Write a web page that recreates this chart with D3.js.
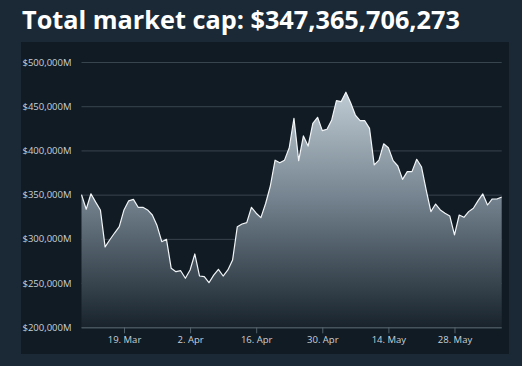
<!DOCTYPE html>
<html><head><meta charset="utf-8">
<script src="https://cdn.jsdelivr.net/npm/d3@7"></script>
<style>html,body{margin:0;padding:0;background:#1a2734;overflow:hidden} svg{display:block}</style>
</head><body><svg id="c" width="522" height="366"></svg>
<script>
const title = "Total market cap: $347,365,706,273";
const startDate = "2018-03-10";
// Daily total market cap, in millions of USD
const marketCapM = [
  350000, 333500, 351000, 341500, 332700, 291000, 299000, 306600, 313800, 332700,
  343000, 344700, 335700, 335700, 332700, 327000, 315000, 296800, 299500, 266700,
  262900, 264000, 255400, 264800, 282900, 258000, 257200, 250400, 259000, 265600,
  258000, 264800, 276000, 313800, 316800, 318300, 335700, 329000, 324000, 340000,
  359800, 389000, 386000, 389000, 403000, 436400, 388500, 416400, 405000, 430700,
  437500, 422400, 424000, 434500, 456300, 455200, 465800, 454000, 440000, 433600,
  433600, 425000, 383600, 389000, 407500, 403000, 388500, 382400, 367300, 376000,
  376000, 390000, 381600, 355300, 330800, 339400, 332700, 328900, 325900, 304400,
  327000, 324400, 330800, 334600, 343200, 350800, 338300, 345100, 345100, 347400
];
const yTicks = [200000, 250000, 300000, 350000, 400000, 450000, 500000];
const xTickDates = ["2018-03-19", "2018-04-02", "2018-04-16", "2018-04-30", "2018-05-14", "2018-05-28"];
const xTickLabels = ["19. Mar", "2. Apr", "16. Apr", "30. Apr", "14. May", "28. May"];

const parse = d3.utcParse("%Y-%m-%d");
const t0 = parse(startDate);
const data = marketCapM.map((v, i) => ({date: d3.utcDay.offset(t0, i), value: v}));

const svg = d3.select("#c");
const W = 522, H = 366;
const plot = {left: 81.5, right: 501.7, top: 62, bottom: 327.3};

const defs = svg.append("defs");
const grad = defs.append("linearGradient").attr("id", "areaGrad")
  .attr("x1", 0).attr("y1", 0).attr("x2", 0).attr("y2", 1);
grad.append("stop").attr("offset", "0%").attr("stop-color", "#bfcbd3");
grad.append("stop").attr("offset", "45%").attr("stop-color", "#74838f");
grad.append("stop").attr("offset", "100%").attr("stop-color", "#18232c");

// background
svg.append("rect").attr("width", W).attr("height", H).attr("fill", "#1b2936");
svg.append("rect").attr("x", 21).attr("y", 42).attr("width", 488).attr("height", 312).attr("fill", "#111b24");

// title
const tt = svg.append("text").attr("x", 22).attr("y", 29)
  .attr("font-family", "'Open Sans', sans-serif").attr("font-weight", 700)
  .attr("font-size", 26).attr("fill", "#ffffff").text(title);
const tw = tt.node().getComputedTextLength();
tt.attr("font-size", 26 * 438 / tw);

const x = d3.scaleUtc().domain(d3.extent(data, d => d.date)).range([plot.left, plot.right]);
const y = d3.scaleLinear().domain([200000, 500000]).range([plot.bottom, plot.top]);

// grid
const yAxis = d3.axisLeft(y).tickValues(yTicks).tickSize(-(plot.right - plot.left))
  .tickFormat(v => "$" + d3.format(",")(v) + "M");
const gy = svg.append("g").attr("transform", `translate(${plot.left},0)`).call(yAxis);
gy.select(".domain").remove();
gy.selectAll(".tick line").attr("stroke", "#38444e").attr("stroke-width", 1);
gy.selectAll(".tick text").attr("x", -10).attr("fill", "#c9d1d7")
  .attr("font-family", "'Open Sans', sans-serif").attr("font-size", 9.5);

// area + line
const area = d3.area().x(d => x(d.date)).y0(plot.bottom).y1(d => y(d.value));
const line = d3.line().x(d => x(d.date)).y(d => y(d.value));
svg.append("path").datum(data).attr("d", area).attr("fill", "url(#areaGrad)");
svg.append("path").datum(data).attr("d", line).attr("fill", "none")
  .attr("stroke", "#f2f5f7").attr("stroke-width", 1.2).attr("stroke-linejoin", "round");

// x axis
const xAxis = d3.axisBottom(x).tickValues(xTickDates.map(parse)).tickSize(6)
  .tickFormat((d, i) => xTickLabels[i]);
const gx = svg.append("g").attr("transform", `translate(0,${plot.bottom})`).call(xAxis);
gx.select(".domain").attr("stroke", "#56626c").attr("d", `M${plot.left},0.5H${plot.right}`);
gx.selectAll(".tick line").attr("stroke", "#56626c");
gx.selectAll(".tick text").attr("fill", "#c9d1d7").attr("y", 9)
  .attr("font-family", "'Open Sans', sans-serif").attr("font-size", 9.5);
</script></body></html>
